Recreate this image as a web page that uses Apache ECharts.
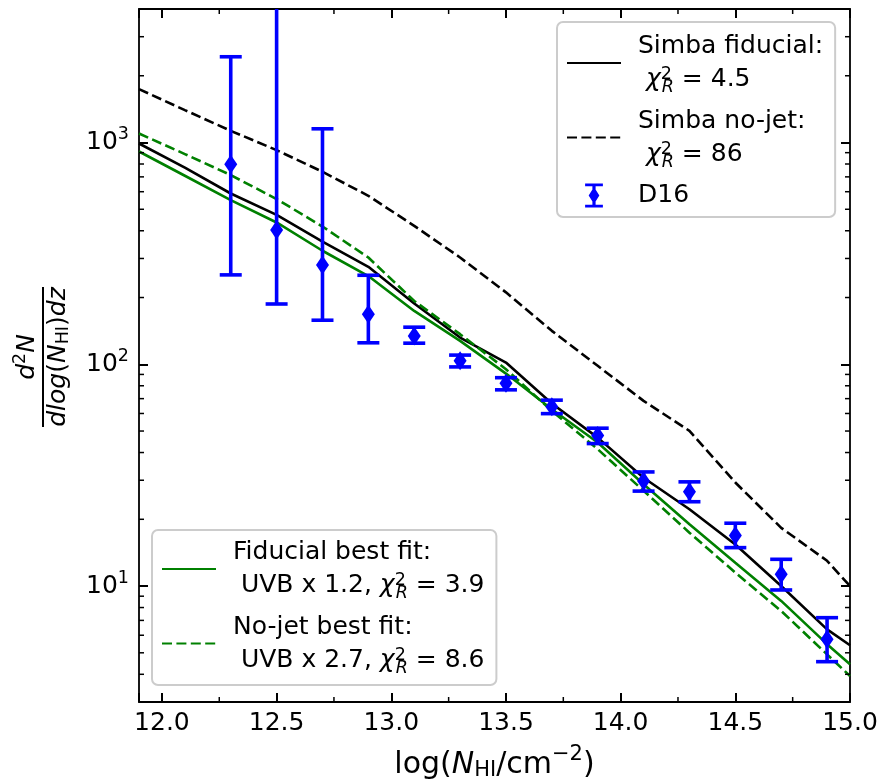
<!DOCTYPE html>
<html><head><meta charset="utf-8">
<script src="https://cdn.jsdelivr.net/npm/echarts@6/dist/echarts.min.js"></script>
<style>html,body{margin:0;padding:0;background:#fff}#c{width:881px;height:781px}</style>
</head><body><div id="c"></div>
<script>
// ---- data ----
const xGrid = [11.9, 12.1, 12.3, 12.5, 12.7, 12.9, 13.1, 13.3, 13.5, 13.7, 13.9, 14.1, 14.3, 14.5, 14.7, 14.9, 15.0];
const simbaFiducial = [990, 771, 589, 472, 357, 275, 188, 132, 101.8, 66.5, 46.7, 30.8, 22.2, 15.4, 10.0, 6.38, 5.41];
const simbaNoJet = [1742, 1400, 1129, 924, 738, 575, 421, 303, 211, 141.5, 98.4, 68.4, 50.1, 29.3, 18.3, 13.0, 10.0];
const fiducialBestFit = [911, 708, 550, 436, 325, 250, 174, 127.5, 90.8, 62.7, 44.4, 28.8, 19.0, 12.75, 8.57, 5.47, 4.44];
const noJetBestFit = [1098, 887, 713, 556, 418, 303, 193, 136.7, 95, 61.6, 41.4, 26.9, 17.4, 11.5, 7.72, 4.92, 3.93];
const d16X = [12.3, 12.5, 12.7, 12.9, 13.1, 13.3, 13.5, 13.7, 13.9, 14.1, 14.3, 14.5, 14.7, 14.9];
const d16Y = [799, 403, 280, 168, 134, 103.6, 82.2, 64.4, 47.7, 29.8, 26.6, 16.9, 11.3, 5.75];
const d16Lo = [253, 187, 158, 125, 124.5, 97.3, 76.7, 59.9, 43.9, 26.8, 24.0, 14.9, 9.6, 4.56];
const d16Hi = [2436, 6000, 1153, 252, 147, 110, 87, 68.9, 51.5, 32.7, 29.5, 19.2, 13.2, 7.2];
const xMinorTicks = [12.25, 12.75, 13.25, 13.75, 14.25, 14.75];
const yMinorTicks = [4, 5, 6, 7, 8, 9, 20, 30, 40, 50, 60, 70, 80, 90, 200, 300, 400, 500, 600, 700, 800, 900, 2000, 3000];
const seriesNames = ['Simba fiducial', 'Simba no-jet', 'Fiducial best fit', 'No-jet best fit', 'D16'];
const xRange = [11.9, 15.0];
const yRange = [3, 4000];

// ---- chart ----
const F = "'DejaVu Sans', sans-serif";
const chart = echarts.init(document.getElementById('c'), null, {renderer: 'canvas'});

const legendText = {
  'Simba fiducial': '{a|Simba fiducial:}\n{a| }{i|χ}{sp|2}{sb|R}{a| = 4.5}',
  'Simba no-jet': '{a|Simba no-jet:}\n{a| }{i|χ}{sp|2}{sb|R}{a| = 86}',
  'D16': '{d|D16}',
  'Fiducial best fit': '{a|Fiducial best fit:}\n{a| UVB x 1.2, }{i|χ}{sp|2}{sb|R}{a| = 3.9}',
  'No-jet best fit': '{a|No-jet best fit:}\n{a| UVB x 2.7, }{i|χ}{sp|2}{sb|R}{a| = 8.6}'
};
const legendRich = {
  a: {fontSize: 25, lineHeight: 33, fontFamily: F, color: '#000'},
  i: {fontSize: 25, lineHeight: 33, fontFamily: F, fontStyle: 'italic', color: '#000'},
  sp: {fontSize: 17.5, lineHeight: 33, fontFamily: F, color: '#000', padding: [0, 0, 10, 0], width: 1},
  sb: {fontSize: 17.5, lineHeight: 33, fontFamily: F, fontStyle: 'italic', color: '#000', padding: [16, 0, 0, 0]},
  d: {fontSize: 25, lineHeight: 24, fontFamily: F, color: '#000'}
};
const errIcon = 'path://M0,0H20V3H0Z M8.2,3H11.8V24H8.2Z M0,24H20V27H0Z M10,4L16,13.5L10,23L4,13.5Z';

const legendCommon = {
  orient: 'vertical', itemGap: 12, itemWidth: 54, itemHeight: 24,
  backgroundColor: 'rgba(255,255,255,0.8)', borderColor: '#cccccc', borderWidth: 2, borderRadius: 6,
  selectedMode: false,
  formatter: n => legendText[n],
  textStyle: {fontFamily: F, fontSize: 25, color: '#000', padding: [0, 0, 0, 12], rich: legendRich}
};
const hideSym = {opacity: 0};

function lineData(arr) { return xGrid.map((x, i) => [x, arr[i]]); }

const axisLineStyle = {color: '#000', width: 1.8};
const xFmt = v => (Math.abs(v * 2 - Math.round(v * 2)) < 1e-6 ? v.toFixed(1) : '');
const yFmt = v => {
  const e = Math.log10(v), r = Math.round(e);
  if (Math.abs(e - r) > 1e-6) return '';
  return '{b|10}{s|' + r + '}';
};

const option = {
  animation: false,
  backgroundColor: '#fff',
  grid: {left: 139, top: 9, width: 711, height: 693, show: false, containLabel: false, outerBoundsMode: 'none'},
  xAxis: [{
    type: 'value', min: xRange[0], max: xRange[1], position: 'bottom',
    axisLine: {show: true, onZero: false, lineStyle: axisLineStyle},
    axisTick: {show: true, inside: true, length: 9, lineStyle: {color: '#000', width: 2}},
    splitLine: {show: false},
    axisLabel: {formatter: xFmt, fontFamily: F, fontSize: 25, color: '#000', margin: 9},
    name: '{t|log(}{i|N}{sub|HI}{t|/cm}{sup|−2}{t|)}',
    nameLocation: 'middle', nameGap: 45,
    nameTextStyle: {rich: {
      t: {fontFamily: F, fontSize: 30, color: '#000', lineHeight: 36},
      i: {fontFamily: F, fontSize: 30, color: '#000', fontStyle: 'italic', lineHeight: 36},
      sub: {fontFamily: F, fontSize: 21, color: '#000', lineHeight: 36, padding: [12, 0, 0, 0]},
      sup: {fontFamily: F, fontSize: 21, color: '#000', lineHeight: 36, padding: [0, 0, 20, 0]}
    }}
  }, {
    type: 'value', min: xRange[0], max: xRange[1], position: 'top',
    axisLine: {show: true, onZero: false, lineStyle: axisLineStyle},
    axisTick: {show: true, inside: true, length: 9, lineStyle: {color: '#000', width: 2}},
    splitLine: {show: false}, axisLabel: {show: false}
  }],
  yAxis: [{
    type: 'log', logBase: 10, min: yRange[0], max: yRange[1], position: 'left',
    axisLine: {show: true, onZero: false, lineStyle: axisLineStyle},
    axisTick: {show: true, inside: true, length: 9, lineStyle: {color: '#000', width: 2}},
    splitLine: {show: false},
    axisLabel: {formatter: yFmt, margin: 10, rich: {
      b: {fontFamily: F, fontSize: 25, color: '#000'},
      s: {fontFamily: F, fontSize: 17.5, color: '#000', padding: [0, 0, 16, 0]}
    }}
  }, {
    type: 'log', logBase: 10, min: yRange[0], max: yRange[1], position: 'right',
    axisLine: {show: true, onZero: false, lineStyle: axisLineStyle},
    axisTick: {show: true, inside: true, length: 9, lineStyle: {color: '#000', width: 2}},
    splitLine: {show: false}, axisLabel: {show: false}
  }],
  legend: [
    Object.assign({}, legendCommon, {
      left: 557, top: 22, padding: [12, 12, 9, 9],
      data: [{name: seriesNames[0], itemStyle: hideSym}, {name: seriesNames[1], itemStyle: hideSym},
             {name: seriesNames[4], icon: errIcon}]
    }),
    Object.assign({}, legendCommon, {
      left: 152, top: 530, padding: [10, 12, 8, 9],
      data: [{name: seriesNames[2], itemStyle: hideSym}, {name: seriesNames[3], itemStyle: hideSym}]
    })
  ],
  graphic: [{
    type: 'group', x: 43, y: 357, rotation: Math.PI / 2,
    children: [
      {type: 'text', x: 0, y: -16, style: {
        text: '{i|d}{s|2}{i|N}', align: 'center', verticalAlign: 'middle',
        rich: {
          i: {fontFamily: F, fontSize: 25, fontStyle: 'italic', fill: '#000'},
          s: {fontFamily: F, fontSize: 17.5, fill: '#000', padding: [0, 0, 14, 0]}
        }}},
      {type: 'line', shape: {x1: -70, y1: 0, x2: 70, y2: 0}, style: {stroke: '#000', lineWidth: 2}},
      {type: 'text', x: 0, y: 15, style: {
        text: '{i|dlog}{t|(}{i|N}{sub|HI}{t|)}{i|dz}', align: 'center', verticalAlign: 'middle',
        rich: {
          i: {fontFamily: F, fontSize: 25, fontStyle: 'italic', fill: '#000'},
          t: {fontFamily: F, fontSize: 25, fill: '#000'},
          sub: {fontFamily: F, fontSize: 17.5, fill: '#000', padding: [10, 0, 0, 0]}
        }}}
    ]
  }],
  series: [
    {
      type: 'custom', name: 'minorTicks', silent: true, clip: false, z: 5,
      data: xMinorTicks.map(v => [v, 10, 0]).concat(yMinorTicks.map(v => [12, v, 1])),
      encode: {x: 0, y: 1},
      renderItem: (params, api) => {
        const cs = params.coordSys;
        const st = {stroke: '#000', lineWidth: 1.5};
        if (api.value(2) === 0) {
          const px = api.coord([api.value(0), 10])[0];
          return {type: 'group', children: [
            {type: 'line', shape: {x1: px, y1: cs.y + cs.height, x2: px, y2: cs.y + cs.height - 5}, style: st},
            {type: 'line', shape: {x1: px, y1: cs.y, x2: px, y2: cs.y + 5}, style: st}
          ]};
        }
        const py = api.coord([12, api.value(1)])[1];
        return {type: 'group', children: [
          {type: 'line', shape: {x1: cs.x, y1: py, x2: cs.x + 5, y2: py}, style: st},
          {type: 'line', shape: {x1: cs.x + cs.width, y1: py, x2: cs.x + cs.width - 5, y2: py}, style: st}
        ]};
      }
    },
    {
      type: 'line', name: seriesNames[0], data: lineData(simbaFiducial), symbol: 'none', z: 2,
      itemStyle: {color: '#000000'}, lineStyle: {color: '#000000', width: 2.6, type: 'solid'}
    },
    {
      type: 'line', name: seriesNames[1], data: lineData(simbaNoJet), symbol: 'none', z: 2,
      itemStyle: {color: '#000000'}, lineStyle: {color: '#000000', width: 2.6, type: [10, 4.4]}
    },
    {
      type: 'line', name: seriesNames[2], data: lineData(fiducialBestFit), symbol: 'none', z: 2,
      itemStyle: {color: '#008000'}, lineStyle: {color: '#008000', width: 2.6, type: 'solid'}
    },
    {
      type: 'line', name: seriesNames[3], data: lineData(noJetBestFit), symbol: 'none', z: 2,
      itemStyle: {color: '#008000'}, lineStyle: {color: '#008000', width: 2.6, type: [10, 4.4]}
    },
    {
      type: 'custom', name: 'D16 errors', clip: true, z: 3, silent: true,
      data: d16X.map((x, i) => [x, d16Lo[i], d16Hi[i]]),
      encode: {x: 0, y: [1, 2]},
      renderItem: (params, api) => {
        const x = api.value(0);
        const pl = api.coord([x, api.value(1)]);
        const ph = api.coord([x, api.value(2)]);
        const hw = 11;
        const st = {stroke: '#0000ff', lineWidth: 3.6};
        return {type: 'group', children: [
          {type: 'line', shape: {x1: pl[0], y1: pl[1], x2: ph[0], y2: ph[1]}, style: st},
          {type: 'line', shape: {x1: pl[0] - hw, y1: pl[1], x2: pl[0] + hw, y2: pl[1]}, style: st},
          {type: 'line', shape: {x1: ph[0] - hw, y1: ph[1], x2: ph[0] + hw, y2: ph[1]}, style: st}
        ]};
      }
    },
    {
      type: 'scatter', name: seriesNames[4], z: 4,
      data: d16X.map((x, i) => [x, d16Y[i]]),
      symbol: 'diamond', symbolSize: [13, 19],
      itemStyle: {color: '#0000ff', opacity: 1}
    }
  ]
};
chart.setOption(option);
</script></body></html>
